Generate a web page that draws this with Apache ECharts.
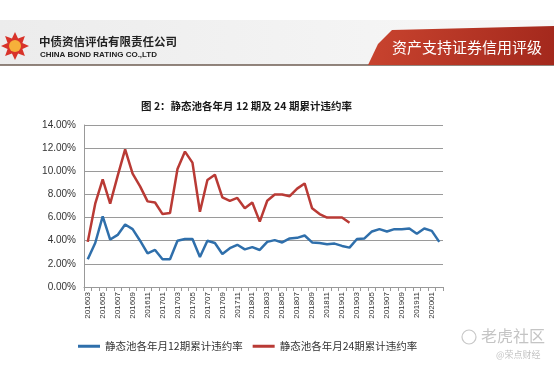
<!DOCTYPE html>
<html>
<head>
<meta charset="utf-8">
<script src="https://cdn.jsdelivr.net/npm/echarts@6/dist/echarts.min.js"></script>
<style>
html,body{margin:0;padding:0;background:#ffffff;}
#c{width:554px;height:367px;}
</style>
</head>
<body>
<div id="c"></div>
<script>
const months = ['201603','201604','201605','201606','201607','201608','201609','201610','201611','201612',
'201701','201702','201703','201704','201705','201706','201707','201708','201709','201710','201711','201712',
'201801','201802','201803','201804','201805','201806','201807','201808','201809','201810','201811','201812',
'201901','201902','201903','201904','201905','201906','201907','201908','201909','201910','201911','201912',
'202001','202002'];
const rate12 = [2.4,3.8,6.1,4.1,4.5,5.4,5.0,4.0,2.9,3.2,2.4,2.4,4.0,4.15,4.15,2.6,4.0,3.8,2.85,3.35,3.65,3.25,3.45,3.2,
3.9,4.05,3.85,4.2,4.25,4.45,3.85,3.8,3.7,3.75,3.55,3.4,4.15,4.2,4.8,5.0,4.8,5.0,5.0,5.05,4.6,5.05,4.85,3.9];
const rate24 = [3.9,7.2,9.3,7.2,9.6,11.9,9.8,8.7,7.4,7.3,6.3,6.4,10.2,11.7,10.75,6.5,9.25,9.7,7.75,7.45,7.7,6.8,7.3,5.65,
7.45,8.0,8.0,7.85,8.5,8.95,6.8,6.3,6.0,6.0,6.0,5.55];
const seriesNames = ['静态池各年月12期累计违约率','静态池各年月24期累计违约率'];
const yTicks = {min:0, max:14, interval:2};

const chart = echarts.init(document.getElementById('c'), null, {renderer:'canvas'});

function starPoints(cx, cy, rOut, rIn, n){
  const pts = [];
  for(let k=0;k<n*2;k++){
    const r = k%2===0 ? rOut : rIn;
    const a = Math.PI*k/n - Math.PI/2;
    pts.push([cx + r*Math.cos(a), cy + r*Math.sin(a)]);
  }
  return pts;
}

chart.setOption({
  backgroundColor:'#ffffff',
  animation:false,
  title:{
    text:'图 2：静态池各年月 12 期及 24 期累计违约率',
    left:136, top:96,
    textStyle:{fontFamily:'Noto Sans CJK SC', fontSize:10.5, fontWeight:'bold', color:'#1a1a1a'}
  },
  graphic:[
    {type:'rect', shape:{x:0,y:20,width:554,height:45}, style:{fill:new echarts.graphic.LinearGradient(0,0,1,0,[{offset:0,color:'#ececec'},{offset:1,color:'#f8f8f8'}])}, silent:true},
    {type:'line', shape:{x1:0,y1:65,x2:554,y2:65}, style:{stroke:'#6e5c52', lineWidth:1.5}, silent:true},
    {type:'polygon', shape:{points:[[368,65],[378,44],[392,30],[554,26],[554,65]]}, style:{fill:new echarts.graphic.LinearGradient(0,0,1,1,[{offset:0,color:'#c9442f'},{offset:1,color:'#a3281c'}])}, silent:true},
    {type:'text', style:{text:'资产支持证券信用评级', x:392, y:40, fontFamily:'Noto Sans CJK SC', fontSize:15, fill:'#ffffff'}, silent:true},
    {type:'polygon', shape:{points:starPoints(15,46,14,8,8)}, style:{fill:'#d8332a'}, silent:true},
    {type:'circle', shape:{cx:15,cy:46,r:6}, style:{fill:'#f6b03a'}, silent:true},
    {type:'text', style:{text:'中债资信评估有限责任公司', x:39, y:36, fontFamily:'Noto Sans CJK SC', fontSize:11.5, fontWeight:'bold', fill:'#222222'}, silent:true},
    {type:'text', style:{text:'CHINA BOND RATING CO.,LTD', x:40, y:51, fontFamily:'Liberation Sans', fontSize:8, fontWeight:'bold', fill:'#222222'}, silent:true},
    {type:'circle', shape:{cx:469,cy:337,r:7}, style:{fill:'none', stroke:'#c8c8c8', lineWidth:1.2}, silent:true},
    {type:'text', style:{text:'老虎社区', x:481, y:328, fontFamily:'Noto Sans CJK SC', fontSize:16, fill:'#c4c4c4'}, silent:true},
    {type:'text', style:{text:'@荣点财经', x:496, y:350, fontFamily:'Noto Sans CJK SC', fontSize:9, fill:'#c4c4c4'}, silent:true}
  ],
  legend:{
    data:seriesNames,
    left:73, top:336,
    icon:'rect', itemWidth:22, itemHeight:3, itemGap:10,
    textStyle:{fontFamily:'Noto Sans CJK SC', fontSize:10.5, color:'#333333'}
  },
  grid:{left:84, right:111, top:125, bottom:80, containLabel:false},
  xAxis:{
    type:'category',
    data:months,
    boundaryGap:true,
    axisLine:{lineStyle:{color:'#999999', width:1}},
    axisTick:{show:true, interval:0, length:4, lineStyle:{color:'#999999'}},
    axisLabel:{interval:1, rotate:90, fontSize:8, margin:5, color:'#333333', fontFamily:'Liberation Sans'}
  },
  yAxis:{
    type:'value',
    min:yTicks.min, max:yTicks.max, interval:yTicks.interval,
    axisLine:{show:true, lineStyle:{color:'#999999'}},
    axisTick:{show:false},
    splitLine:{lineStyle:{color:'#9a9a9a', width:1}},
    axisLabel:{formatter:function(v){return v.toFixed(2)+'%';}, fontSize:10, color:'#333333', margin:8, fontFamily:'Liberation Sans'}
  },
  series:[
    {name:seriesNames[0], type:'line', data:rate12, symbol:'none', color:'#2f6fab', lineStyle:{width:2.5, color:'#2f6fab'}},
    {name:seriesNames[1], type:'line', data:rate24, symbol:'none', color:'#b93a35', lineStyle:{width:2.5, color:'#b93a35'}}
  ]
});
</script>
</body>
</html>
